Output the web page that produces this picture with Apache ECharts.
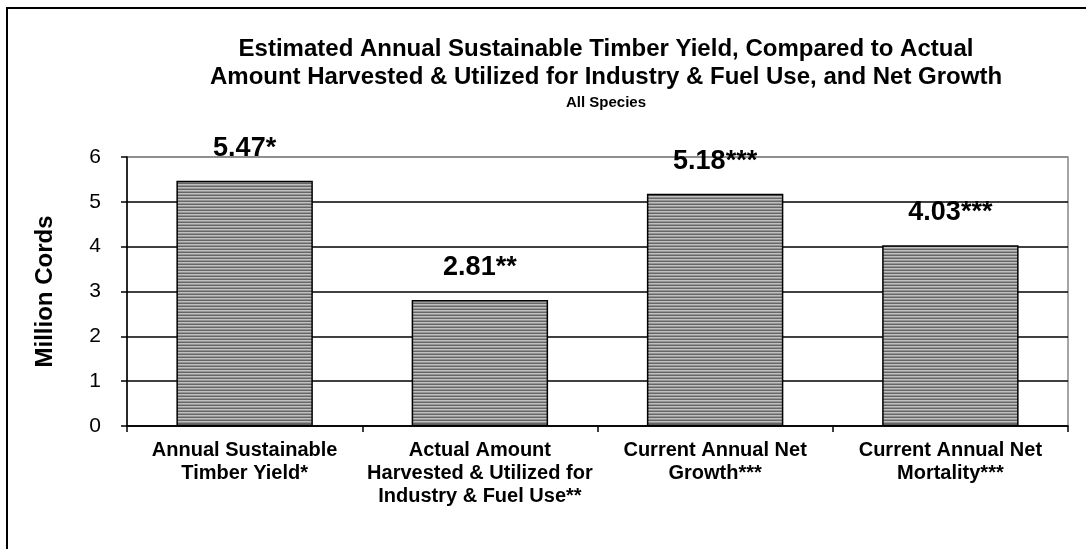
<!DOCTYPE html>
<html>
<head>
<meta charset="utf-8">
<script src="https://cdn.jsdelivr.net/npm/echarts@6/dist/echarts.min.js"></script>
<style>
html,body{margin:0;padding:0;background:#fff;}
#c{width:1086px;height:549px;}
</style>
</head>
<body>
<div id="c"></div>
<script>
const categories = [
  "Annual Sustainable\nTimber Yield*",
  "Actual Amount\nHarvested & Utilized for\nIndustry & Fuel Use**",
  "Current Annual Net\nGrowth***",
  "Current Annual Net\nMortality***"
];
const values = [5.47, 2.81, 5.18, 4.03];
const valueSuffixes = ["*", "**", "***", "***"];
const titleLines = "Estimated Annual Sustainable Timber Yield, Compared to Actual\nAmount Harvested & Utilized for Industry & Fuel Use, and Net Growth";
const subtitle = "All Species";
const yAxisName = "Million Cords";

// striped fill pattern
const pat = document.createElement('canvas');
pat.width = 4; pat.height = 3;
const pc = pat.getContext('2d');
pc.fillStyle = '#c0c0c0'; pc.fillRect(0,0,4,3);
pc.fillStyle = '#666666'; pc.fillRect(0,0,4,1);
pc.fillStyle = '#959595'; pc.fillRect(0,2,4,1);

const chart = echarts.init(document.getElementById('c'), null, {renderer:'canvas'});
const FONT = '"Liberation Sans", Arial, sans-serif';
chart.setOption({
  backgroundColor: '#fff',
  animation: false,
  title: {
    text: titleLines,
    subtext: subtitle,
    left: 601, textAlign: 'center', top: 30,
    itemGap: 4,
    textStyle: {fontFamily: FONT, fontWeight: 'bold', fontSize: 24, color: '#000', lineHeight: 28},
    subtextStyle: {fontFamily: FONT, fontWeight: 'bold', fontSize: 15, color: '#000'}
  },
  graphic: [{
    type: 'rect', silent: true,
    shape: {x: 7, y: 8, width: 1100, height: 560},
    style: {fill: 'none', stroke: '#000', lineWidth: 2}
  }],
  grid: {left: 127, right: 18, top: 157, bottom: 123, show: true, borderColor: '#888', borderWidth: 1.5, backgroundColor: 'transparent'},
  xAxis: {
    type: 'category', data: categories,
    axisLine: {lineStyle: {color: '#000', width: 1.5}},
    axisTick: {show: true, length: 6, lineStyle: {color: '#000', width: 1.5}},
    axisLabel: {interval: 0, margin: 13, fontFamily: FONT, fontWeight: 'bold', fontSize: 20, color: '#000', lineHeight: 23}
  },
  yAxis: {
    type: 'value', min: 0, max: 6, interval: 1,
    name: yAxisName, nameLocation: 'middle', nameGap: 70, nameRotate: 90,
    nameTextStyle: {fontFamily: FONT, fontWeight: 'bold', fontSize: 24, color: '#000'},
    axisLine: {show: true, lineStyle: {color: '#000', width: 1.5}},
    axisTick: {show: true, length: 6, lineStyle: {color: '#000', width: 1.5}},
    axisLabel: {fontFamily: FONT, fontSize: 21, color: '#000', margin: 26},
    splitLine: {show: true, lineStyle: {color: ['#000','#000','#000','#000','#000','#000','#888'], width: 1.5}}
  },
  series: [{
    type: 'bar',
    data: values,
    barWidth: '58%',
    itemStyle: {color: {image: pat, repeat: 'repeat'}, borderColor: '#000', borderWidth: 1.5},
    label: {
      show: true, position: 'top', distance: 19,
      fontFamily: FONT, fontWeight: 'bold', fontSize: 27, color: '#000',
      formatter: p => values[p.dataIndex].toFixed(2) + valueSuffixes[p.dataIndex]
    }
  }]
});
</script>
</body>
</html>
